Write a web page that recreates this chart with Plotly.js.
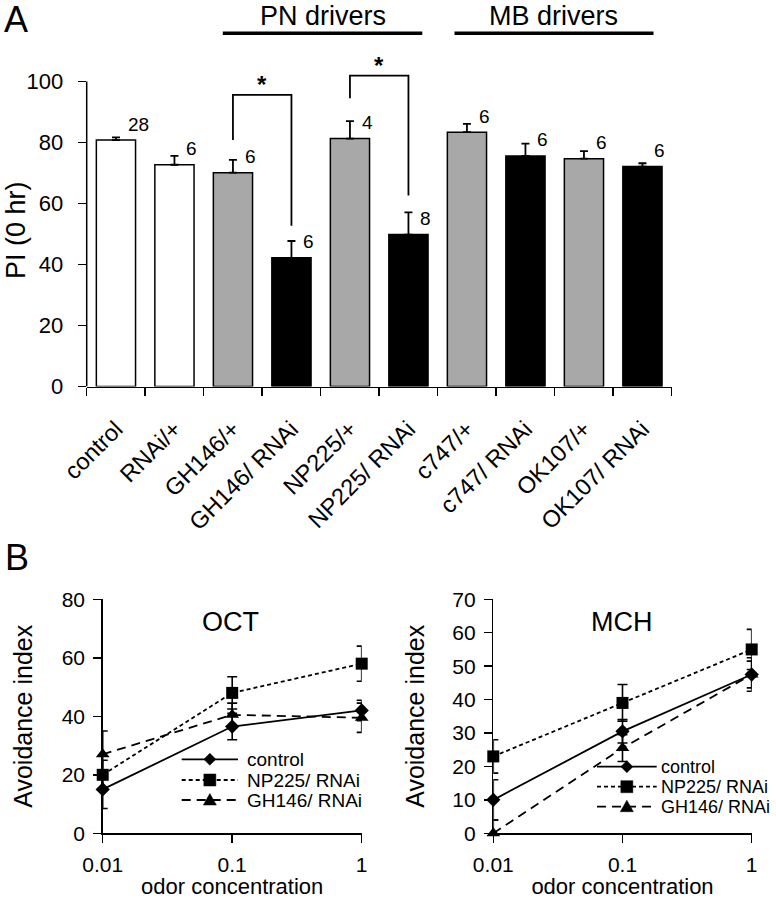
<!DOCTYPE html>
<html><head><meta charset="utf-8">
<script src="https://cdn.plot.ly/plotly-3.0.1.min.js"></script>
<style>html,body{margin:0;padding:0;background:#fff}#chart{width:776px;height:899px}</style>
</head><body><div id="chart"></div>
<script>
// ---------- Panel A data ----------
const genotypes = ['control','RNAi/+','GH146/+','GH146/ RNAi','NP225/+','NP225/ RNAi','c747/+','c747/ RNAi','OK107/+','OK107/ RNAi'];
const genotypeKind = ['control','control','driver','rnai','driver','rnai','driver','rnai','driver','rnai'];
const piValues = [80.8, 72.7, 70.1, 42.2, 81.3, 49.8, 83.4, 75.6, 74.7, 72.1];
const piErrors = [0.9, 2.9, 4.2, 5.5, 5.7, 7.3, 2.7, 4.0, 2.5, 1.1];
const nFlies = ['28','6','6','6','4','8','6','6','6','6'];
const sig1X = ['GH146/+','GH146/+','GH146/ RNAi','GH146/ RNAi'];
const sig1Y = [80.8, 95.6, 95.6, 52.7];
const sig2X = ['NP225/+','NP225/+','NP225/ RNAi','NP225/ RNAi'];
const sig2Y = [94.5, 101.9, 101.9, 62.6];
const yTicksA = [0, 20, 40, 60, 80, 100];

// ---------- Panel B data ----------
const odorConc = [0.01, 0.1, 1];
const concTickText = ['0.01', '0.1', '1'];
const seriesNames = ['control', 'NP225/ RNAi', 'GH146/ RNAi'];
const octControl = [15, 36.5, 42];
const octControlErr = [6.5, 4.5, 3.5];
const octNP225 = [20, 48, 58];
const octNP225Err = [5, 5.5, 6];
const octGH146 = [27, 40.5, 39.5];
const octGH146Err = [8, 4, 5];
const mchControl = [10, 30.5, 47.5];
const mchControlErr = [6, 3.5, 4];
const mchNP225 = [23, 39, 55];
const mchNP225Err = [5, 5.5, 6];
const mchGH146 = [0, 25.5, 47.5];
const mchGH146Err = [4, 4, 5];

// ---------- styling ----------
const FONT = 'Liberation Sans, Arial, Helvetica, sans-serif';
const kindFill = {control: '#ffffff', driver: '#a8a8a8', rnai: '#000000'};
const W = 776, H = 899;
const px = v => v / W;
const py = v => 1 - v / H;

const traces = [];
traces.push({
  type: 'bar', x: genotypes, y: piValues, xaxis: 'x', yaxis: 'y', showlegend: false,
  marker: {color: genotypeKind.map(k => kindFill[k]), line: {color: '#000', width: 1.5}},
  error_y: {type: 'data', symmetric: false, array: piErrors, arrayminus: piErrors.map(() => 0),
            color: '#000', thickness: 1.8, width: 4},
  hoverinfo: 'x+y'
});
[[sig1X, sig1Y], [sig2X, sig2Y]].forEach(([sx, sy]) => {
  traces.push({type: 'scatter', mode: 'lines', x: sx, y: sy, xaxis: 'x', yaxis: 'y',
    showlegend: false, cliponaxis: false, line: {color: '#000', width: 1.8}, hoverinfo: 'skip'});
});

const styles = [
  {dash: 'solid', symbol: 'diamond', size: 11},
  {dash: '4px,3px', symbol: 'square', size: 12},
  {dash: '9px,6px', symbol: 'triangle-up', size: 12}
];
const oct = [[octControl, octControlErr], [octNP225, octNP225Err], [octGH146, octGH146Err]];
const mch = [[mchControl, mchControlErr], [mchNP225, mchNP225Err], [mchGH146, mchGH146Err]];
[[oct, 'x2', 'y2'], [mch, 'x3', 'y3']].forEach(([set, xa, ya]) => {
  set.forEach(([vals, errs], i) => {
    traces.push({
      type: 'scatter', mode: 'lines+markers', name: seriesNames[i], x: odorConc, y: vals,
      xaxis: xa, yaxis: ya, showlegend: false, cliponaxis: false,
      line: {color: '#000', width: 1.8, dash: styles[i].dash},
      marker: {color: '#000', symbol: styles[i].symbol, size: styles[i].size},
      error_y: {type: 'data', array: errs, color: '#000', thickness: 1.6, width: 5}
    });
  });
});

const axBase = {showline: true, linecolor: '#000', linewidth: 1.5, ticks: 'outside', tickcolor: '#000',
  tickwidth: 1.5, showgrid: false, zeroline: false, automargin: false, tickfont: {family: FONT, size: 22, color: '#000'}};

// panel A: 0 at y=386.5px, 100 at y=81.5px; range extended above 100 for the brackets
const A_BOTTOM = 386.5, A_PXPERUNIT = 3.05, A_TOP_VAL = 112;

const layout = {
  width: W, height: H, margin: {l: 0, r: 0, t: 0, b: 0},
  paper_bgcolor: '#fff', plot_bgcolor: 'rgba(0,0,0,0)',
  font: {family: FONT, color: '#000'},
  showlegend: false,
  bargap: 0.33,
  xaxis: Object.assign({}, axBase, {domain: [px(86.7), px(671.7)], anchor: 'y', type: 'category',
    categoryorder: 'array', categoryarray: genotypes, range: [-0.5, 9.5], tickangle: -45,
    tickson: 'boundaries', ticklen: 8, ticklabelstandoff: 18, tickfont: {family: FONT, size: 23.5, color: '#000'}}),
  yaxis: Object.assign({}, axBase, {domain: [py(A_BOTTOM), py(A_BOTTOM - A_TOP_VAL * A_PXPERUNIT)], anchor: 'x',
    range: [0, A_TOP_VAL], tickvals: yTicksA, ticklen: 8, ticklabelstandoff: 10, showline: false}),
  xaxis2: Object.assign({}, axBase, {domain: [px(102.7), px(361.7)], anchor: 'y2', type: 'log',
    range: [-2, 0], tickvals: odorConc, ticktext: concTickText, ticklen: 8, ticklabelstandoff: 4,
    tickfont: {family: FONT, size: 21, color: '#000'},
    title: {text: 'odor concentration', font: {family: FONT, size: 22, color: '#000'}, standoff: 4}}),
  yaxis2: Object.assign({}, axBase, {domain: [py(833.3), py(599.3)], anchor: 'x2', range: [0, 80],
    dtick: 20, ticklen: 8, tickfont: {family: FONT, size: 21, color: '#000'}, ticklabelstandoff: 4,
    title: {text: 'Avoidance index', font: {family: FONT, size: 25, color: '#000'}, standoff: 22}}),
  xaxis3: Object.assign({}, axBase, {domain: [px(493.3), px(751.7)], anchor: 'y3', type: 'log',
    range: [-2, 0], tickvals: odorConc, ticktext: concTickText, ticklen: 8, ticklabelstandoff: 4,
    tickfont: {family: FONT, size: 21, color: '#000'},
    title: {text: 'odor concentration', font: {family: FONT, size: 22, color: '#000'}, standoff: 4}}),
  yaxis3: Object.assign({}, axBase, {domain: [py(833.3), py(599.3)], anchor: 'x3', range: [0, 70],
    dtick: 10, ticklen: 8, tickfont: {family: FONT, size: 21, color: '#000'}, ticklabelstandoff: 4,
    title: {text: 'Avoidance index', font: {family: FONT, size: 25, color: '#000'}, standoff: 20}}),
  shapes: [
    {type: 'line', xref: 'paper', yref: 'paper', x0: px(222.8), x1: px(422.3), y0: py(33.3), y1: py(33.3), line: {color: '#000', width: 3.5}},
    {type: 'line', xref: 'paper', yref: 'paper', x0: px(454.5), x1: px(653.5), y0: py(33.3), y1: py(33.3), line: {color: '#000', width: 3.5}},
    // panel A y-axis line, only from 0 to 100
    {type: 'line', xref: 'paper', yref: 'y', x0: px(86.7), x1: px(86.7), y0: 0, y1: 100, line: {color: '#000', width: 1.5}}
  ],
  annotations: []
};

const ann = layout.annotations;
const shp = layout.shapes;
const txt = (text, x, y, size, extra) => ann.push(Object.assign({text, x, y, xref: 'paper', yref: 'paper',
  showarrow: false, xanchor: 'center', yanchor: 'middle', font: {family: FONT, size, color: '#000'}}, extra || {}));
txt('A', px(16), py(20), 36);
txt('B', px(17), py(557), 36);
txt('PN drivers', px(323.3), 1, 27, {yanchor: 'top', borderpad: 0});
txt('MB drivers', px(553.7), 1, 27, {yanchor: 'top', borderpad: 0});
txt('OCT', px(230.7), py(621.7), 27);
txt('MCH', px(621.7), py(621.7), 27);
txt('PI (0 hr)', px(16), py(230), 27, {textangle: -90});

// n labels
genotypes.forEach((g, i) => {
  ann.push({text: nFlies[i], x: g, y: piValues[i], xref: 'x', yref: 'y', showarrow: false,
    xanchor: 'left', yanchor: 'middle', xshift: 10, yshift: 16, font: {family: FONT, size: 19, color: '#000'}});
});
// significance stars
[[2.5, sig1Y[1]], [4.5, sig2Y[1]]].forEach(([x, y]) => {
  ann.push({text: '<b>*</b>', x, y, xref: 'x', yref: 'y', showarrow: false, xanchor: 'center',
    yanchor: 'middle', yshift: 10, font: {family: FONT, size: 24, color: '#000'}});
});

// legend keys (drawn like the original: long line sample with the marker in the middle)
function legendKey(x0, x1, yRow, textX, st, label, fs) {
  shp.push({type: 'line', xref: 'paper', yref: 'paper', x0: px(x0), x1: px(x1), y0: py(yRow), y1: py(yRow),
    line: {color: '#000', width: 1.8, dash: st.dash}});
  const c = (x0 + x1) / 2;
  const P = (a, b) => px(a) + ',' + py(b);
  let path;
  if (st.symbol === 'diamond') path = 'M' + P(c - 6, yRow) + 'L' + P(c, yRow - 6) + 'L' + P(c + 6, yRow) + 'L' + P(c, yRow + 6) + 'Z';
  else if (st.symbol === 'square') path = 'M' + P(c - 6, yRow - 6) + 'L' + P(c + 6, yRow - 6) + 'L' + P(c + 6, yRow + 6) + 'L' + P(c - 6, yRow + 6) + 'Z';
  else path = 'M' + P(c - 6.5, yRow + 5) + 'L' + P(c + 6.5, yRow + 5) + 'L' + P(c, yRow - 6.5) + 'Z';
  shp.push({type: 'path', xref: 'paper', yref: 'paper', path, fillcolor: '#000', line: {color: '#000', width: 0.5}});
  txt(label, px(textX), py(yRow), fs, {xanchor: 'left', borderpad: 0});
}
const legLeftRows = [759.3, 780, 800];
const legRightRows = [766.7, 786.7, 806.7];
seriesNames.forEach((name, i) => {
  legendKey(181.7, 238, legLeftRows[i], 246, styles[i], name, 19);
  legendKey(597, 656.7, legRightRows[i], 660, styles[i], name, 18);
});

Plotly.newPlot('chart', traces, layout, {displayModeBar: false, staticPlot: true});
</script>
</body></html>
